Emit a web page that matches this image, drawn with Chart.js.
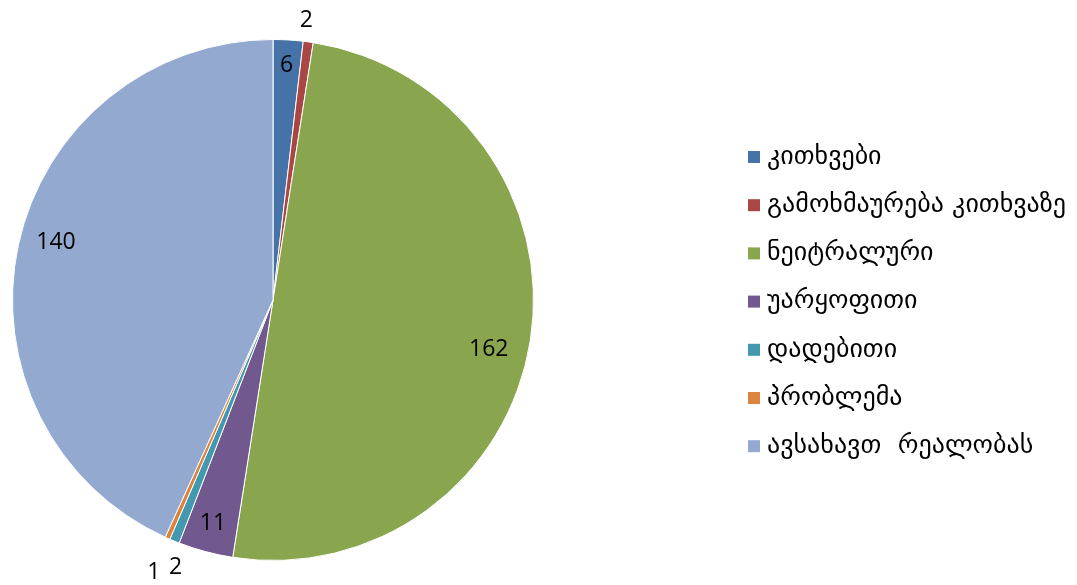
<!DOCTYPE html>
<html>
<head>
<meta charset="utf-8">
<script src="https://cdn.jsdelivr.net/npm/chart.js@4/dist/chart.umd.min.js"></script>
<style>
  html, body { margin: 0; padding: 0; background: #ffffff; }
  #wrap { width: 1077px; height: 585px; position: relative; }
</style>
</head>
<body>
<div id="wrap"><canvas id="c" width="1077" height="585"></canvas></div>
<script>
// Response categories and their counts
const categories = [
  'კითხვები',
  'გამოხმაურება კითხვაზე',
  'ნეიტრალური',
  'უარყოფითი',
  'დადებითი',
  'პრობლემა',
  'ავსახავთ  რეალობას'
];
const counts = [6, 2, 162, 11, 2, 1, 140];
const sliceColors = ['#4572A7', '#AA4643', '#89A54E', '#71588F', '#4198AF', '#DB843D', '#93A9CF'];

// Where each value label sits: fraction of the radius, plus a small pixel nudge
const labelRadius = [0.90, 1.085, 0.85, 0.89, 1.09, 1.13, 0.86];
const labelNudge  = [[0, 0], [-5, 0], [-3, 15], [0, 0], [10, 5], [0, 3], [2, -10]];

const labelFont = '23px "Open Sans", "Liberation Sans", sans-serif';
const legendFont = '26px "DejaVu Sans", "Noto Sans", sans-serif';

const valueLabels = {
  id: 'valueLabels',
  afterDatasetsDraw(chart) {
    const ctx = chart.ctx;
    const meta = chart.getDatasetMeta(0);
    ctx.save();
    ctx.font = labelFont;
    ctx.fillStyle = '#000000';
    ctx.textAlign = 'center';
    ctx.textBaseline = 'middle';
    meta.data.forEach((arc, i) => {
      const p = arc.getProps(['x', 'y', 'startAngle', 'endAngle', 'outerRadius'], true);
      const mid = (p.startAngle + p.endAngle) / 2;
      const r = p.outerRadius * labelRadius[i];
      const x = p.x + Math.cos(mid) * r + labelNudge[i][0];
      const y = p.y + Math.sin(mid) * r + labelNudge[i][1];
      ctx.fillText(String(counts[i]), x, y);
    });
    ctx.restore();
  }
};

const sideLegend = {
  id: 'sideLegend',
  afterDraw(chart) {
    const ctx = chart.ctx;
    const left = 748, top = 157, step = 48.2, box = 12;
    ctx.save();
    ctx.font = legendFont;
    ctx.textAlign = 'left';
    ctx.textBaseline = 'middle';
    categories.forEach((name, i) => {
      const cy = top + i * step;
      ctx.fillStyle = sliceColors[i];
      ctx.fillRect(left, cy - box / 2, box, box);
      ctx.fillStyle = '#000000';
      ctx.fillText(name, left + 19, cy);
    });
    ctx.restore();
  }
};

new Chart(document.getElementById('c'), {
  type: 'pie',
  data: {
    labels: categories,
    datasets: [{
      data: counts,
      backgroundColor: sliceColors,
      borderColor: '#ffffff',
      borderWidth: 1
    }]
  },
  options: {
    responsive: false,
    animation: false,
    layout: { padding: { top: 39, bottom: 24, left: 12, right: 543 } },
    plugins: {
      legend: { display: false },
      tooltip: { enabled: false }
    }
  },
  plugins: [valueLabels, sideLegend]
});
</script>
</body>
</html>
